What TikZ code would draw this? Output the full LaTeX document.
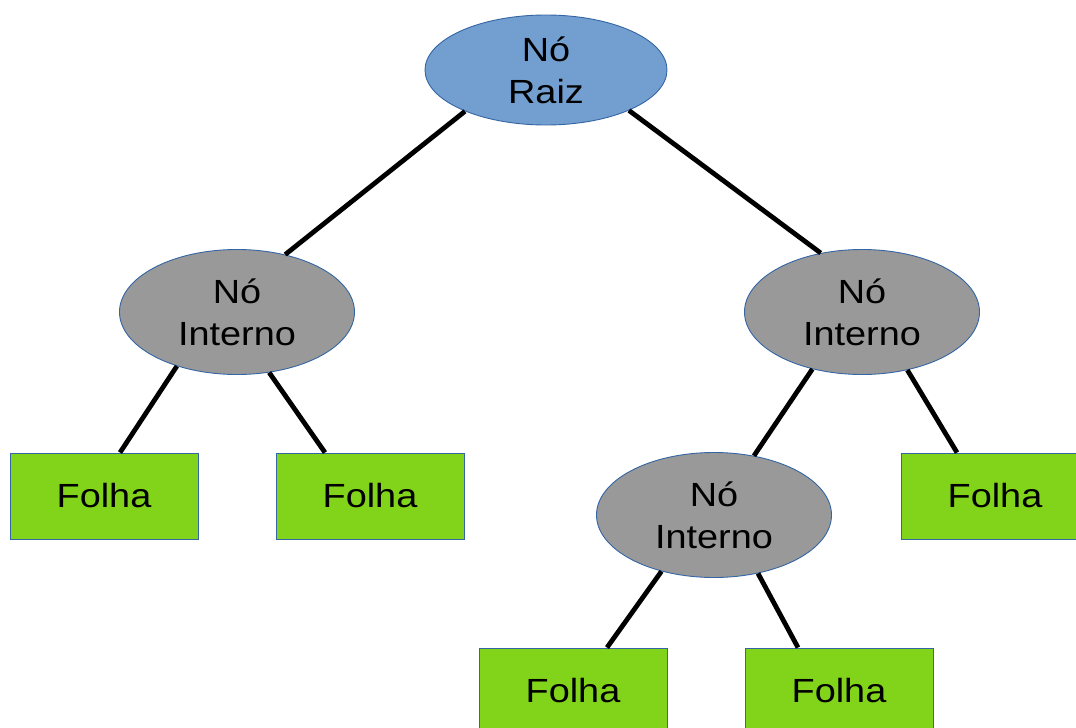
\documentclass[tikz,border=0pt]{standalone}
\usepackage{fontspec}
\setmainfont{Liberation Sans}[FakeStretch=1.13]
\usetikzlibrary{shapes.geometric}
\definecolor{rootblue}{HTML}{729FCF}
\definecolor{edgeblue}{HTML}{3465A4}
\definecolor{nodegray}{HTML}{999999}
\definecolor{leafgreen}{HTML}{81D41A}
\tikzset{
  base/.style={draw=edgeblue, line width=0.9pt, inner sep=0pt, align=center,
    font=\fontsize{33.5}{42}\selectfont, text=black},
  rootnode/.style={base, ellipse, fill=rootblue, minimum width=242pt, minimum height=110pt},
  internal/.style={base, ellipse, fill=nodegray, minimum width=235pt, minimum height=125pt},
  leaf/.style={base, rectangle, fill=leafgreen, minimum width=188pt, minimum height=86pt},
  link/.style={line width=4.8pt, black}
}
\begin{document}
\begin{tikzpicture}[x=1pt,y=-1pt]
\useasboundingbox (0,0) rectangle (1076,728);
\clip (0,0) rectangle (1076,728);
\node[rootnode] (root) at (546,70) {Nó\\Raiz};
\node[internal] (il) at (237,312) {Nó\\Interno};
\node[internal] (ir) at (862,312) {Nó\\Interno};
\node[internal] (im) at (714,515) {Nó\\Interno};
\node[leaf] (l1) at (104,496) {Folha};
\node[leaf] (l2) at (370,496) {Folha};
\node[leaf] (l3) at (995,496) {Folha};
\node[leaf] (l4) at (573,691) {Folha};
\node[leaf] (l5) at (839,691) {Folha};
\draw[link] (root.207.4) -- (il.50.4);
\draw[link] (root.-26) -- (ir.125.4);
\draw[link] (il.222.5) -- ([xshift=16pt]l1.north);
\draw[link] (il.-62.7) -- ([xshift=-45pt]l2.north);
\draw[link] (ir.229.8) -- (im.56.5);
\draw[link] (ir.-52.5) -- ([xshift=-38pt]l3.north);
\draw[link] (im.227) -- ([xshift=34pt]l4.north);
\draw[link] (im.-53.4) -- ([xshift=-41pt]l5.north);
\end{tikzpicture}
\end{document}
